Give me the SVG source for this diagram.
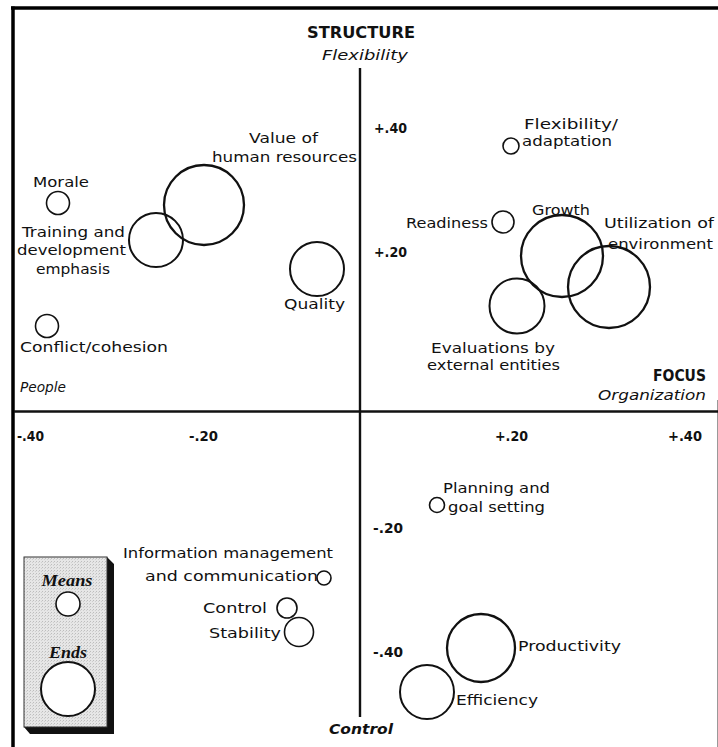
<svg xmlns="http://www.w3.org/2000/svg" width="718" height="747" viewBox="0 0 718 747">
  <defs>
    <pattern id="stipple" width="3" height="3" patternUnits="userSpaceOnUse">
      <rect width="3" height="3" fill="#e6e6e6"/>
      <rect x="0" y="0" width="1" height="1" fill="#bdbdbd"/>
      <rect x="2" y="1" width="1" height="1" fill="#cfcfcf"/>
    </pattern>
  </defs>
  <style>
    text { font-family: "DejaVu Sans", "Liberation Sans", sans-serif; font-size: 14.5px; fill: #111; }
    .tick { font-weight: bold; }
    .head { font-weight: bold; font-size: 15px; }
    .it { font-style: italic; }
    .legend { font-family: "Liberation Serif", serif; font-style: italic; font-weight: bold; font-size: 17px; }
    circle { fill: none; stroke: #111; }
    .big { stroke-width: 2.3; }
    .mid { stroke-width: 2; }
    .small { stroke-width: 1.6; }
    .axis { stroke: #111; stroke-width: 2.4; fill: none; }
    .frame { stroke: #000; fill: none; }
  </style>
  <rect width="718" height="747" fill="#fff"/>

  <!-- outer frame -->
  <g id="frame">
    <line class="frame" x1="11" y1="8" x2="718" y2="8" stroke-width="3.5"/>
    <line class="frame" x1="13" y1="6.5" x2="13" y2="747" stroke-width="3.5"/>
    <line x1="717.5" y1="400" x2="717.5" y2="747" stroke="#999" stroke-width="1"/>
  </g>

  <!-- quadrant axes -->
  <g id="connectors">
    <line class="axis" x1="360" y1="68" x2="360" y2="717"/>
    <line class="axis" x1="14" y1="411.5" x2="718" y2="411.5"/>
  </g>

  <!-- axis titles and scale -->
  <g id="axis-labels">
    <text class="head" x="361" y="38" text-anchor="middle" textLength="108" lengthAdjust="spacingAndGlyphs">STRUCTURE</text>
    <text class="it" x="365" y="60" text-anchor="middle" textLength="86" lengthAdjust="spacingAndGlyphs">Flexibility</text>
    <text class="it" x="20" y="392" textLength="46" lengthAdjust="spacingAndGlyphs">People</text>
    <text class="head" x="706" y="381" text-anchor="end" textLength="53" lengthAdjust="spacingAndGlyphs">FOCUS</text>
    <text class="it" x="706" y="400" text-anchor="end" textLength="108" lengthAdjust="spacingAndGlyphs">Organization</text>
    <text class="it" x="329" y="734" font-weight="bold" textLength="64" lengthAdjust="spacingAndGlyphs">Control</text>

    <text class="tick" x="17" y="441" textLength="27" lengthAdjust="spacingAndGlyphs">-.40</text>
    <text class="tick" x="189" y="441" textLength="29" lengthAdjust="spacingAndGlyphs">-.20</text>
    <text class="tick" x="495" y="441" textLength="33" lengthAdjust="spacingAndGlyphs">+.20</text>
    <text class="tick" x="668" y="441" textLength="34" lengthAdjust="spacingAndGlyphs">+.40</text>

    <text class="tick" x="374" y="133" textLength="33" lengthAdjust="spacingAndGlyphs">+.40</text>
    <text class="tick" x="374" y="257" textLength="33" lengthAdjust="spacingAndGlyphs">+.20</text>
    <text class="tick" x="373" y="533" textLength="30" lengthAdjust="spacingAndGlyphs">-.20</text>
    <text class="tick" x="373" y="657" textLength="30" lengthAdjust="spacingAndGlyphs">-.40</text>
  </g>

  <!-- people / flexibility quadrant -->
  <g id="morale">
    <circle class="small" cx="58" cy="203" r="11.5"/>
    <text x="33" y="187" textLength="56" lengthAdjust="spacingAndGlyphs">Morale</text>
  </g>
  <g id="value-of-human-resources">
    <circle class="big" cx="204" cy="205" r="40"/>
    <text x="249" y="143" textLength="69" lengthAdjust="spacingAndGlyphs">Value of</text>
    <text x="212" y="162" textLength="145" lengthAdjust="spacingAndGlyphs">human resources</text>
  </g>
  <g id="training-and-development">
    <circle class="mid" cx="156" cy="240" r="27"/>
    <text x="22" y="237" textLength="103" lengthAdjust="spacingAndGlyphs">Training and</text>
    <text x="17" y="255" textLength="109" lengthAdjust="spacingAndGlyphs">development</text>
    <text x="36" y="274" textLength="74" lengthAdjust="spacingAndGlyphs">emphasis</text>
  </g>
  <g id="quality">
    <circle class="mid" cx="317" cy="269" r="27"/>
    <text x="284" y="309" textLength="61" lengthAdjust="spacingAndGlyphs">Quality</text>
  </g>
  <g id="conflict-cohesion">
    <circle class="small" cx="47" cy="326" r="11.5"/>
    <text x="20" y="352" textLength="148" lengthAdjust="spacingAndGlyphs">Conflict/cohesion</text>
  </g>

  <!-- organization / flexibility quadrant -->
  <g id="flexibility-adaptation">
    <circle class="small" cx="511" cy="146" r="8"/>
    <text x="524" y="129" textLength="94" lengthAdjust="spacingAndGlyphs">Flexibility/</text>
    <text x="522" y="146" textLength="90" lengthAdjust="spacingAndGlyphs">adaptation</text>
  </g>
  <g id="readiness">
    <circle class="small" cx="503" cy="222" r="11"/>
    <text x="406" y="228" textLength="82" lengthAdjust="spacingAndGlyphs">Readiness</text>
  </g>
  <g id="growth">
    <circle class="big" cx="562" cy="256" r="41"/>
    <text x="532" y="215" textLength="58" lengthAdjust="spacingAndGlyphs">Growth</text>
  </g>
  <g id="utilization-of-environment">
    <circle class="big" cx="609" cy="287" r="41"/>
    <text x="604" y="228" textLength="110" lengthAdjust="spacingAndGlyphs">Utilization of</text>
    <text x="608" y="249" textLength="105" lengthAdjust="spacingAndGlyphs">environment</text>
  </g>
  <g id="evaluations-by-external-entities">
    <circle class="mid" cx="517" cy="306" r="27.5"/>
    <text x="431" y="353" textLength="124" lengthAdjust="spacingAndGlyphs">Evaluations by</text>
    <text x="427" y="370" textLength="133" lengthAdjust="spacingAndGlyphs">external entities</text>
  </g>

  <!-- organization / control quadrant -->
  <g id="planning-and-goal-setting">
    <circle class="small" cx="437" cy="505" r="7.5"/>
    <text x="443" y="493" textLength="107" lengthAdjust="spacingAndGlyphs">Planning and</text>
    <text x="448" y="512" textLength="97" lengthAdjust="spacingAndGlyphs">goal setting</text>
  </g>
  <g id="productivity">
    <circle class="big" cx="481" cy="648" r="34"/>
    <text x="518" y="651" textLength="103" lengthAdjust="spacingAndGlyphs">Productivity</text>
  </g>
  <g id="efficiency">
    <circle class="mid" cx="427" cy="692" r="27"/>
    <text x="456" y="705" textLength="82" lengthAdjust="spacingAndGlyphs">Efficiency</text>
  </g>

  <!-- people / control quadrant -->
  <g id="information-management">
    <circle class="small" cx="324" cy="578" r="7"/>
    <text x="123" y="558" textLength="210" lengthAdjust="spacingAndGlyphs">Information management</text>
    <text x="145" y="581" textLength="173" lengthAdjust="spacingAndGlyphs">and communication</text>
  </g>
  <g id="control">
    <circle class="small" cx="287" cy="608" r="10"/>
    <text x="203" y="613" textLength="64" lengthAdjust="spacingAndGlyphs">Control</text>
  </g>
  <g id="stability">
    <circle class="small" cx="299" cy="632" r="14.5"/>
    <text x="209" y="638" textLength="72" lengthAdjust="spacingAndGlyphs">Stability</text>
  </g>

  <!-- key box -->
  <g id="legend">
    <polygon points="107,557 114,564 114,734 30,734 24,727 107,727" fill="#111"/>
    <rect x="24" y="557" width="83" height="170" fill="url(#stipple)" stroke="#333" stroke-width="1"/>
    <text class="legend" x="67" y="586" text-anchor="middle" textLength="51" lengthAdjust="spacingAndGlyphs">Means</text>
    <circle class="small" cx="68" cy="604" r="12" style="fill:#fff"/>
    <text class="legend" x="68" y="658" text-anchor="middle" textLength="38" lengthAdjust="spacingAndGlyphs">Ends</text>
    <circle class="mid" cx="68" cy="689" r="27" style="fill:#fff"/>
  </g>
</svg>
